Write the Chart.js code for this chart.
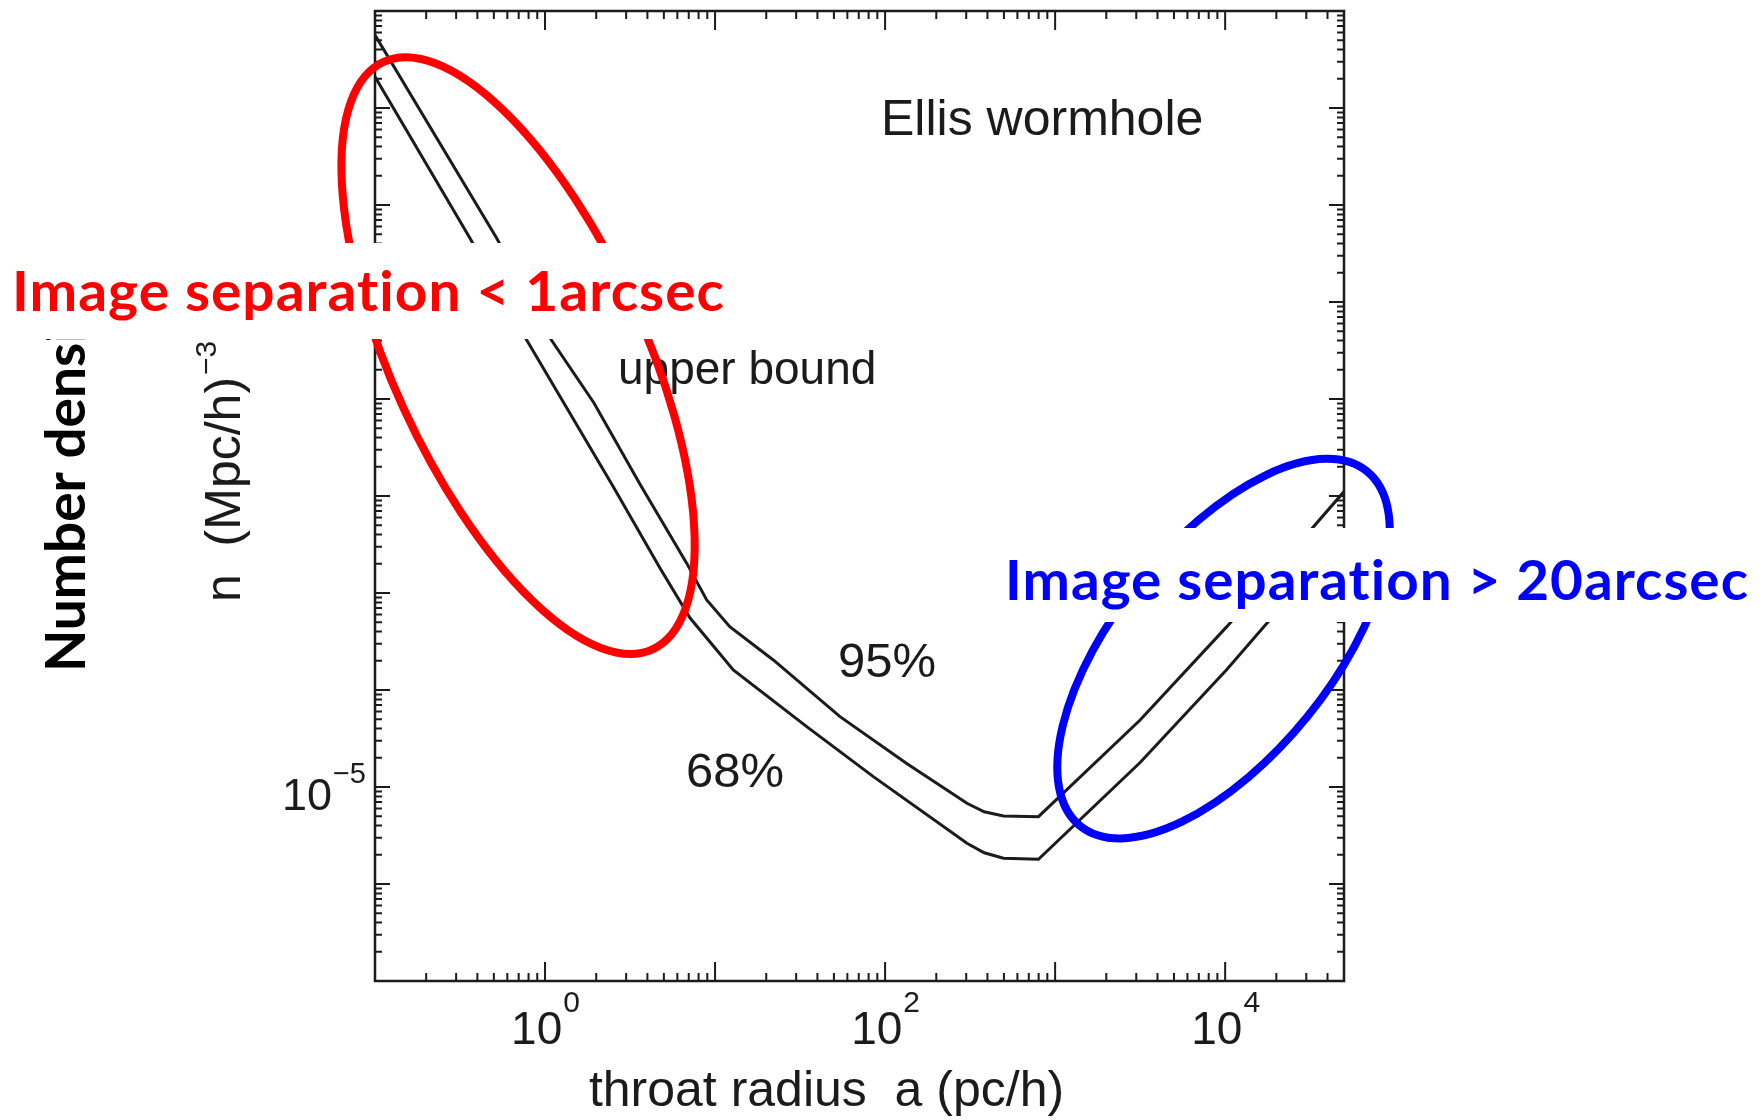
<!DOCTYPE html>
<html>
<head>
<meta charset="utf-8">
<script src="https://cdn.jsdelivr.net/npm/chart.js@4.4.0/dist/chart.umd.min.js"></script>
<style>
  html, body { margin: 0; padding: 0; background: #fff; }
  #wrap { width: 1764px; height: 1120px; }
</style>
</head>
<body>
<div id="wrap"><canvas id="chart" width="1764" height="1120"></canvas></div>
<script>
// throat radius a (pc/h) and upper bound on n (Mpc/h)^-3
const radius95 = [0.1, 0.52, 1.09, 1.94, 3.62, 6.82, 8.93, 12.2, 22.0, 54.3, 134, 303, 383, 497, 798, 3162, 10230, 50000];
const bound95  = [566, 4.54, 0.406, 0.091, 0.0132, 2.02e-3, 8.47e-4, 4.50e-4, 2.04e-4, 5.31e-5, 1.75e-5, 6.79e-6, 5.56e-6, 5.02e-6, 4.94e-6, 4.91e-5, 4.50e-4, 0.0111];

const radius68 = [0.1, 0.362, 0.78, 2.52, 4.74, 7.13, 12.8, 34.6, 85.3, 303, 383, 497, 798, 3162, 10230, 50000];
const bound68  = [210, 4.54, 0.406, 0.01247, 1.81e-3, 5.52e-4, 1.61e-4, 4.19e-5, 1.28e-5, 2.63e-6, 2.10e-6, 1.84e-6, 1.80e-6, 1.79e-5, 1.63e-4, 4.04e-3];

const xRange = [0.1, 50000];
const yRange = [1e-7, 1e3];
const xLabelExps = [0, 2, 4];
const yLabelExps = [-5, 0];

const INK = '#1b1b1b';
const HELV = '"Liberation Sans", Arial, sans-serif';
const BOLD = 'Lato, "Open Sans", sans-serif';

function toPoints(xs, ys) {
    return xs.map((x, i) => ({ x: x, y: ys[i] }));
}

function logTicks(min, max) {
    const out = [];
    for (let d = Math.floor(Math.log10(min)); d <= Math.ceil(Math.log10(max)); d++) {
        for (let m = 1; m <= 9; m++) {
            const v = m * Math.pow(10, d);
            if (v >= min * 0.999 && v <= max * 1.001) out.push({ v: v, major: m === 1 });
        }
    }
    return out;
}

// "10" with a raised exponent
function powerLabel(ctx, exp, x, y, baseSize, expSize, rise, align) {
    const sup = String(exp).replace('-', '\u2212');
    ctx.font = baseSize + 'px ' + HELV;
    const wb = ctx.measureText('10').width;
    ctx.font = expSize + 'px ' + HELV;
    const we = ctx.measureText(sup).width;
    const left = align === 'center' ? x - (wb + we) / 2 : x - (wb + we);
    ctx.textAlign = 'left';
    ctx.textBaseline = 'alphabetic';
    ctx.font = baseSize + 'px ' + HELV;
    ctx.fillText('10', left, y);
    ctx.font = expSize + 'px ' + HELV;
    ctx.fillText(sup, left + wb + 1, y - rise);
}

// bold callout text stretched to the width seen in the picture
function fitText(ctx, text, left, baseline, size, width, color) {
    ctx.save();
    ctx.font = 'bold ' + size + 'px ' + BOLD;
    ctx.letterSpacing = '1px';  // also keeps "ti" from ligating
    const w = ctx.measureText(text).width;
    ctx.translate(left, baseline);
    ctx.scale(width / w, 1);
    ctx.fillStyle = color;
    ctx.textAlign = 'left';
    ctx.textBaseline = 'alphabetic';
    ctx.fillText(text, 0, 0);
    ctx.restore();
}

const decorations = {
    id: 'decorations',
    afterDraw(chart) {
        const ctx = chart.ctx;
        const area = chart.chartArea;
        const xs = chart.scales.x, ys = chart.scales.y;
        ctx.save();

        // frame
        ctx.strokeStyle = INK;
        ctx.lineWidth = 2.5;
        ctx.strokeRect(area.left, area.top, area.right - area.left, area.bottom - area.top);

        // inward ticks on all four sides
        ctx.lineWidth = 2;
        ctx.beginPath();
        logTicks(xRange[0], xRange[1]).forEach(t => {
            const px = xs.getPixelForValue(t.v);
            const len = t.major ? 19 : 8;
            ctx.moveTo(px, area.bottom); ctx.lineTo(px, area.bottom - len);
            ctx.moveTo(px, area.top); ctx.lineTo(px, area.top + len);
        });
        logTicks(yRange[0], yRange[1]).forEach(t => {
            const py = ys.getPixelForValue(t.v);
            const len = t.major ? 15 : 7;
            ctx.moveTo(area.left, py); ctx.lineTo(area.left + len, py);
            ctx.moveTo(area.right, py); ctx.lineTo(area.right - len, py);
        });
        ctx.stroke();

        // tick labels
        ctx.fillStyle = INK;
        xLabelExps.forEach(e => {
            const px = xs.getPixelForValue(Math.pow(10, e));
            powerLabel(ctx, e, px, area.bottom + 63, 46, 30, 32, 'center');
        });
        yLabelExps.forEach(e => {
            const py = ys.getPixelForValue(Math.pow(10, e));
            powerLabel(ctx, e, area.left - 10, py + 23, 45, 29, 27, 'right');
        });

        // axis titles
        ctx.font = '50px ' + HELV;
        ctx.textAlign = 'center';
        ctx.fillText('throat radius  a (pc/h)', (area.left + area.right) / 2 - 33, area.bottom + 125);

        ctx.save();
        ctx.translate(240, 602);
        ctx.rotate(-Math.PI / 2);
        ctx.textAlign = 'left';
        ctx.font = '50px ' + HELV;
        ctx.fillText('n  (Mpc/h)', 0, 0);
        const wt = ctx.measureText('n  (Mpc/h)').width;
        ctx.font = '30px ' + HELV;
        ctx.fillText('\u22123', wt + 2, -24);
        ctx.restore();

        // labels inside the plot
        ctx.textAlign = 'left';
        ctx.font = '50px ' + HELV;
        ctx.fillText('Ellis wormhole', 881, 135);
        ctx.font = '46px ' + HELV;
        ctx.fillText('upper bound', 618, 384);
        ctx.font = '49px ' + HELV;
        ctx.fillText('95%', 838, 677);
        ctx.fillText('68%', 686, 787);

        // bold side label
        ctx.save();
        ctx.translate(85, 672);
        ctx.rotate(-Math.PI / 2);
        ctx.font = 'bold 55px ' + BOLD;
        ctx.fillStyle = '#000';
        ctx.fillText('Number density', 0, 0);
        ctx.restore();

        // highlight rings, centred on data positions
        ctx.lineWidth = 8;
        ctx.beginPath();
        ctx.ellipse(xs.getPixelForValue(0.694), ys.getPixelForValue(0.28), 323, 126, 65.4 * Math.PI / 180, 0, 2 * Math.PI);
        ctx.strokeStyle = '#ff0000';
        ctx.stroke();
        ctx.beginPath();
        ctx.ellipse(xs.getPixelForValue(9780), ys.getPixelForValue(2.67e-4), 228, 108, -51 * Math.PI / 180, 0, 2 * Math.PI);
        ctx.strokeStyle = '#0000ff';
        ctx.stroke();

        // callouts on white boxes
        ctx.fillStyle = '#fff';
        ctx.fillRect(0, 243, 736, 96);
        fitText(ctx, 'Image separation < 1arcsec', 12, 311, 56, 713, '#ff0000');
        ctx.fillStyle = '#fff';
        ctx.fillRect(995, 528, 769, 94);
        fitText(ctx, 'Image separation > 20arcsec', 1005, 600, 55, 744, '#0000ff');

        ctx.restore();
    }
};

const lineStyle = {
    showLine: true,
    borderColor: INK,
    backgroundColor: INK,
    borderWidth: 3,
    pointRadius: 0,
    tension: 0,
    fill: false
};

new Chart(document.getElementById('chart'), {
    type: 'scatter',
    data: {
        datasets: [
            Object.assign({ label: '95%', data: toPoints(radius95, bound95) }, lineStyle),
            Object.assign({ label: '68%', data: toPoints(radius68, bound68) }, lineStyle)
        ]
    },
    options: {
        responsive: false,
        animation: false,
        devicePixelRatio: 1,
        layout: { padding: { left: 375, right: 420, top: 11, bottom: 139 } },
        plugins: {
            legend: { display: false },
            tooltip: { enabled: false }
        },
        scales: {
            x: { type: 'logarithmic', min: xRange[0], max: xRange[1], display: false },
            y: { type: 'logarithmic', min: yRange[0], max: yRange[1], display: false }
        }
    },
    plugins: [decorations]
});
</script>
</body>
</html>
